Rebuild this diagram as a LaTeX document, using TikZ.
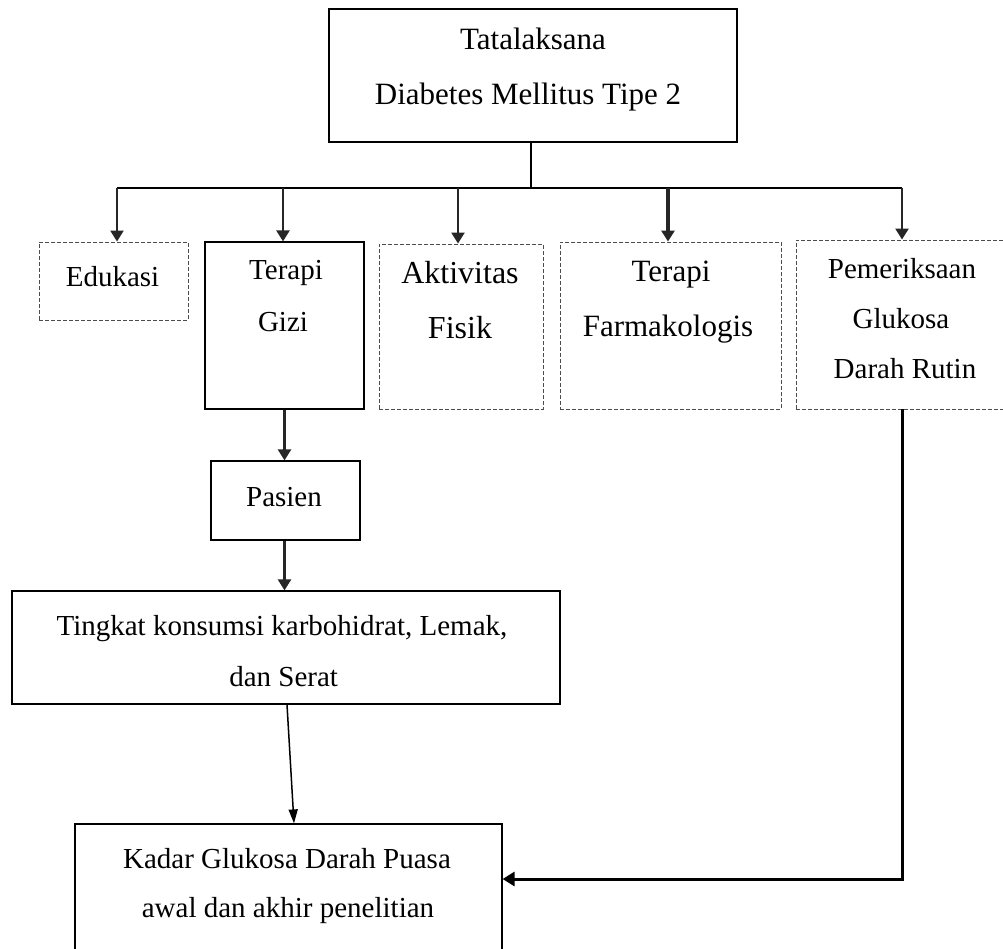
\documentclass[tikz,border=0pt]{standalone}
\usepackage{fontspec}
\setmainfont{Liberation Serif}
\usetikzlibrary{arrows.meta}
\begin{document}
\begin{tikzpicture}[x=1pt,y=-1pt,
  solidbox/.style={draw=black, line width=1.2pt, rectangle, inner sep=0pt},
  dashbox/.style={draw=black!70, line width=0.9pt, dash pattern=on 4pt off 2pt, rectangle, inner sep=0pt},
  lbl/.style={font=\fontsize{29}{29}\selectfont, inner sep=0pt, anchor=base},
  lblbig/.style={font=\fontsize{31}{31}\selectfont, inner sep=0pt, anchor=base},
  bar/.style={line width=2pt, draw=black},
  drop/.style={line width=2.4pt, draw=black!85, -{Triangle[width=13pt,length=11pt]}},
  thin/.style={line width=1.5pt, draw=black, -{Triangle[width=9pt,length=14pt]}},
  thick/.style={line width=3pt, draw=black, -{Triangle[width=14pt,length=12pt]}}]
\clip (0,0) rectangle (1003,949);
\fill[white] (0,0) rectangle (1003,949);

% boxes
\node[solidbox, minimum width=408pt, minimum height=133pt] (top) at (533,75.5) {};
\node[dashbox, minimum width=149pt, minimum height=78pt] (edu) at (113.5,281) {};
\node[solidbox, minimum width=159pt, minimum height=167pt] (gizi) at (284.5,325.5) {};
\node[dashbox, minimum width=164pt, minimum height=165pt] (akt) at (461,326.5) {};
\node[dashbox, minimum width=221pt, minimum height=167pt] (farm) at (670.5,325.5) {};
\node[dashbox, minimum width=214pt, minimum height=169pt] (pem) at (903,324.5) {};
\node[solidbox, minimum width=149pt, minimum height=79pt] (pasien) at (285.5,500.5) {};
\node[solidbox, minimum width=548pt, minimum height=113pt] (tingkat) at (286,647.5) {};
\node[solidbox, minimum width=427pt, minimum height=136pt] (kadar) at (288.5,892) {};

% texts
\node[lblbig] (t1) at (533,50) {Tatalaksana};
\node[lblbig] (t2) at (528,105) {Diabetes Mellitus Tipe 2};
\node[lbl] (t3) at (112.5,287) {Edukasi};
\node[lbl] (t4) at (286,280) {Terapi};
\node[lbl] (t5) at (283,331) {Gizi};
\node[lblbig, font=\fontsize{32}{32}\selectfont] (t6) at (460,284) {Aktivitas};
\node[lblbig, font=\fontsize{32}{32}\selectfont] (t7) at (460,338) {Fisik};
\node[lblbig] (t8) at (671,282) {Terapi};
\node[lblbig] (t9) at (668,337) {Farmakologis};
\node[lbl] (t10) at (902,279) {Pemeriksaan};
\node[lbl] (t11) at (901,328) {Glukosa};
\node[lbl] (t12) at (905,378) {Darah Rutin};
\node[lbl] (t13) at (284,506) {Pasien};
\node[lbl] (t14) at (282,635) {Tingkat konsumsi karbohidrat, Lemak,};
\node[lbl] (t15) at (283.6,686) {dan Serat};
\node[lbl] (t16) at (287,868) {Kadar Glukosa Darah Puasa};
\node[lbl] (t17) at (288,917) {awal dan akhir penelitian};

% connectors
\coordinate (barL) at (117,188);
\coordinate (d2) at (283,188);
\coordinate (d3) at (458,188);
\coordinate (d4) at (668,188);
\coordinate (barR) at (902,188);
\coordinate (turn) at (902,879);

\draw[bar] ([xshift=-2pt]top.south) -- ([xshift=-2pt]top.south |- barL);
\draw[bar] (barL) -- (barR);
\draw[drop] (barL) -- (barL |- edu.north);
\draw[drop] (d2) -- (d2 |- gizi.north);
\draw[drop] (d3) -- (d3 |- akt.north);
\draw[drop, line width=4pt] (d4) -- (d4 |- farm.north);
\draw[drop] (barR) -- (barR |- pem.north);
\draw[drop] (gizi.south) -- (gizi.south |- pasien.north);
\draw[drop] (pasien.south -| gizi.south) -- (gizi.south |- tingkat.north);
\draw[thin] ([xshift=1pt]tingkat.south) -- ([xshift=5.5pt]kadar.north);
\draw[thick] (pem.south -| turn) -- (turn) -- (turn -| kadar.east);
\end{tikzpicture}
\end{document}
